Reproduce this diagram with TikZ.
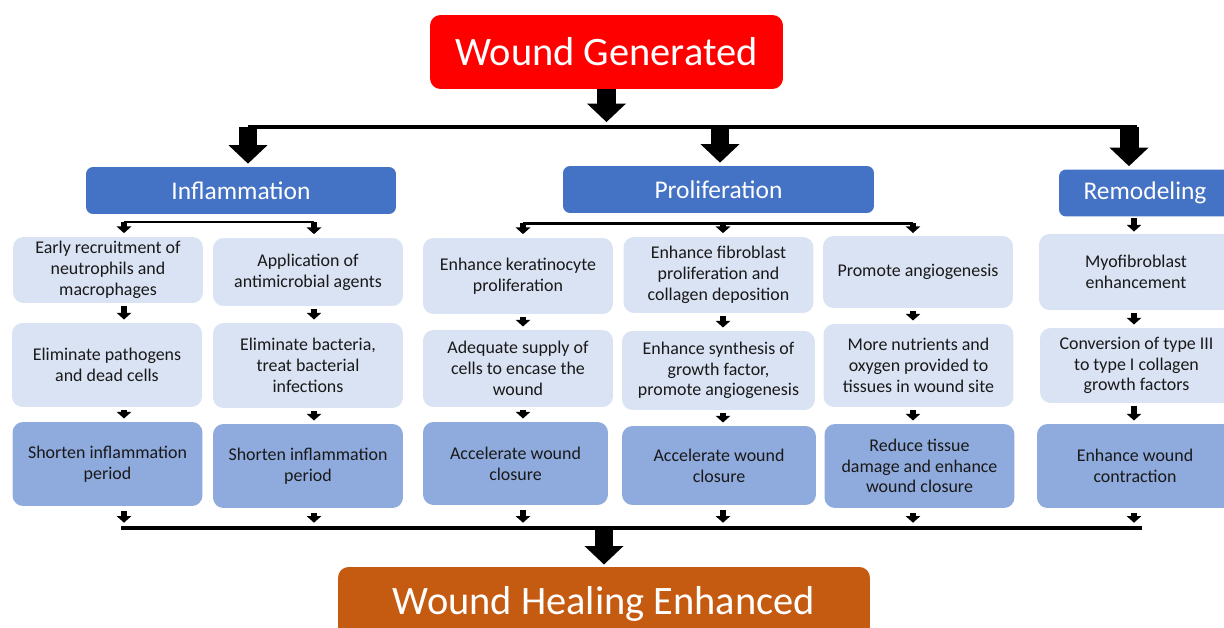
\documentclass[tikz,border=0pt]{standalone}
\usepackage{fontspec}
\setmainfont{Carlito}
\usetikzlibrary{arrows.meta}
\definecolor{woundred}{HTML}{FF0000}
\definecolor{healorange}{HTML}{C55A11}
\definecolor{phaseblue}{HTML}{4472C4}
\definecolor{steplight}{HTML}{DAE3F3}
\definecolor{stepmid}{HTML}{8FAADC}
\tikzset{
  endbox/.style={rounded corners=6pt,text=white,font=\fontsize{23}{28}\selectfont,minimum height=1.48cm},
  phase/.style={fill=phaseblue,rounded corners=4pt,text=white,font=\fontsize{14.5}{17}\selectfont,minimum height=0.94cm},
  action/.style={fill=steplight,rounded corners=6pt,text=black!90,align=center,inner sep=2pt,
    font=\fontsize{10.2}{11.8}\selectfont,minimum width=3.8cm},
  effect/.style={action,fill=stepmid},
  bigarr/.style={line width=10.8pt,-{Triangle[width=21.5pt,length=10.5pt]}},
  smallarr/.style={line width=3pt,-{Triangle[width=8.2pt,length=3.8pt]}},
  bus/.style={line width=2.8pt},
  subbus/.style={line width=1.7pt}
}
\begin{document}
\begin{tikzpicture}[x=0.02cm,y=-0.02cm]
\useasboundingbox (0,0) rectangle (1224,628);
\clip (0,0) rectangle (1224,628);
% start and end
\node[endbox,fill=woundred,minimum width=7.06cm] (gen) at (606.5,52) {Wound Generated};
\node[endbox,fill=healorange,minimum width=10.64cm] (heal) at (604,604) {Wound Healing Enhanced};
% phases
\node[phase,minimum width=6.2cm] (infl) at (241,190.5) {Inflammation};
\node[phase,minimum width=6.22cm] (prolif) at (718.5,189.5) {Proliferation};
\node[phase,minimum width=3.44cm] (remod) at (1145,193) {Remodeling};
% columns for the small arrows
\coordinate (col1) at (124,0);
\coordinate (col2) at (314,0);
\coordinate (col3) at (523,0);
\coordinate (col4) at (723,0);
\coordinate (col5) at (913,0);
\coordinate (col6) at (1134,0);
% first row
\node[action,minimum height=1.32cm] (r1c1) at (108,270) {Early recruitment of\\neutrophils and\\macrophages};
\node[action,minimum height=1.36cm] (r1c2) at (308,272) {Application of\\antimicrobial agents};
\node[action,minimum height=1.52cm] (r1c3) at (518,276) {Enhance keratinocyte\\proliferation};
\node[action,minimum height=1.52cm] (r1c4) at (718.5,275) {Enhance fibroblast\\proliferation and\\collagen deposition};
\node[action,minimum height=1.44cm] (r1c5) at (918,272) {Promote angiogenesis};
\node[action,minimum height=1.52cm,minimum width=3.88cm] (r1c6) at (1136,272) {Myofibroblast\\enhancement};
% second row
\node[action,minimum height=1.68cm] (r2c1) at (107,365) {Eliminate pathogens\\and dead cells};
\node[action,minimum height=1.7cm] (r2c2) at (308,365.5) {Eliminate bacteria,\\treat bacterial\\infections};
\node[action,minimum height=1.54cm] (r2c3) at (518,368.5) {Adequate supply of\\cells to encase the\\wound};
\node[action,minimum height=1.58cm,minimum width=3.86cm] (r2c4) at (718.5,370.5) {Enhance synthesis of\\growth factor,\\promote angiogenesis};
\node[action,minimum height=1.66cm] (r2c5) at (918.5,365.5) {More nutrients and\\oxygen provided to\\tissues in wound site};
\node[action,minimum height=1.5cm,minimum width=3.86cm] (r2c6) at (1136.5,365.5) {Conversion of type III\\to type I collagen\\growth factors};
% third row
\node[effect,minimum height=1.68cm] (r3c1) at (107.5,464) {Shorten inflammation\\period};
\node[effect,minimum height=1.68cm] (r3c2) at (308,466) {Shorten inflammation\\period};
\node[effect,minimum height=1.66cm,minimum width=3.7cm] (r3c3) at (515.5,463.5) {Accelerate wound\\closure};
\node[effect,minimum height=1.58cm,minimum width=3.88cm] (r3c4) at (719,465.5) {Accelerate wound\\closure};
\node[effect,minimum height=1.68cm] (r3c5) at (919.5,466) {Reduce tissue\\damage and enhance\\wound closure};
\node[effect,minimum height=1.68cm,minimum width=3.92cm] (r3c6) at (1135,466) {Enhance wound\\contraction};
% top split
\coordinate (tbL) at (248,127);
\coordinate (tbM) at (720,127);
\coordinate (tbR) at (1129,127);
\coordinate (tbE) at (1137,127);
\draw[bigarr,shorten >=2.8pt] (gen.south) -- (gen.south |- tbL);
\draw[bus] (tbL) -- (tbE);
\draw[bigarr,shorten >=1.7pt] (tbL) -- (tbL |- infl.north);
\draw[bigarr,shorten >=1.7pt] (tbM) -- (tbM |- prolif.north);
\draw[bigarr,shorten >=1.7pt] (tbR) -- (tbR |- remod.north);
% splits under the phases
\coordinate (ibL) at (124,222);
\coordinate (ibR) at (314,222);
\coordinate (pbL) at (523,223.5);
\coordinate (pbR) at (913,223.5);
\draw[subbus] (ibL) -- (ibR);
\draw[subbus] (pbL) -- (pbR);
\draw[smallarr,shorten >=2pt] (ibL) -- (r1c1.north -| col1);
\draw[smallarr,shorten >=2pt] (ibR) -- (r1c2.north -| col2);
\draw[smallarr,shorten >=2pt] (pbL) -- (r1c3.north -| col3);
\draw[smallarr,shorten >=2pt] (pbL -| col4) -- (r1c4.north -| col4);
\draw[smallarr,shorten >=1.5pt] (pbR) -- (r1c5.north -| col5);
\draw[smallarr,shorten <=0.6pt,shorten >=1.2pt] (remod.south -| col6) -- (r1c6.north -| col6);
% down the columns
\foreach \c in {1,...,6}{
  \draw[smallarr,shorten <=1.5pt,shorten >=1.8pt] (r1c\c.south -| col\c) -- (r2c\c.north -| col\c);
  \draw[smallarr,shorten <=1.5pt,shorten >=1.8pt] (r2c\c.south -| col\c) -- (r3c\c.north -| col\c);
}
% bottom join
\coordinate (bbL) at (121,528);
\coordinate (bbR) at (1142,528);
\foreach \c in {1,...,6}
  \draw[smallarr,shorten <=2.6pt,shorten >=3pt] (r3c\c.south -| col\c) -- (bbL -| col\c);
\draw[bus] (bbL) -- (bbR);
\draw[bigarr,shorten >=1.2pt] (heal.north |- bbL) -- (heal.north);
\end{tikzpicture}
\end{document}
